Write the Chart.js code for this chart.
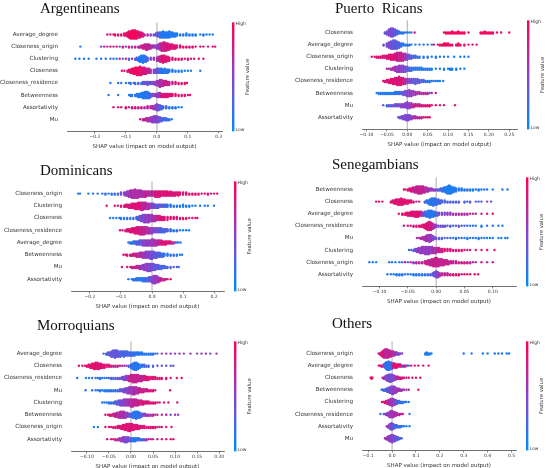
<!DOCTYPE html>
<html>
<head>
<meta charset="utf-8">
<script src="https://cdn.jsdelivr.net/npm/chart.js@4.4.1/dist/chart.umd.min.js"></script>
<style>
  body { margin: 0; background: #fff; width: 549px; height: 468px; overflow: hidden; position: relative; }
  canvas { position: absolute; }
  .ttl { position: absolute; font: 15px/15px "Liberation Serif", serif; color: #111; white-space: pre; }
</style>
</head>
<body>
<script>
// each row: [shap value, feature value 0..1 (low..high), number of dots stacked there]

const argFeatures = ['Average_degree', 'Closeness_origin', 'Clustering', 'Closeness', 'Closeness_residence', 'Betweenness', 'Assortativity', 'Mu'];
const argTicks = [-0.2, -0.1, 0, 0.1, 0.2];
const argRows = [
  [[-0.16,.9,1],[-0.15,.8,1],[-0.14,.9,1],[-0.135,.9,2],[-0.125,.8,2],[-0.115,.9,2],[-0.105,.9,3],[-0.1,.8,3],[-0.095,.9,5],[-0.09,.9,7],[-0.085,1,8],[-0.08,.9,9],[-0.075,.9,9],[-0.07,1,9],[-0.065,.9,8],[-0.06,.8,7],[-0.055,.9,6],[-0.05,.9,5],[-0.045,.8,4],[-0.04,.7,2],[-0.03,.7,2],[-0.02,.5,2],[-0.01,.4,2],[-0.003,.5,3],[0.003,.3,5],[0.01,.2,6],[0.015,.1,6],[0.02,.1,7],[0.025,.2,6],[0.03,.1,6],[0.035,.1,6],[0.04,.1,7],[0.045,.1,5],[0.05,.2,5],[0.055,.1,4],[0.06,.1,4],[0.065,.1,3],[0.075,.1,2],[0.085,.2,2],[0.095,.1,3],[0.105,.1,2],[0.115,.1,2],[0.125,.1,2],[0.14,.1,1],[0.15,.2,2],[0.16,.1,1],[0.17,.1,1],[0.18,.1,1]],
  [[-0.247,.1,1],[-0.18,.5,1],[-0.17,.8,1],[-0.16,.6,1],[-0.15,.9,1],[-0.14,.7,1],[-0.13,.9,1],[-0.12,.4,1],[-0.11,.8,2],[-0.1,.6,1],[-0.09,.9,2],[-0.08,.5,2],[-0.07,.8,2],[-0.06,.6,2],[-0.055,.8,2],[-0.05,.7,3],[-0.045,.8,4],[-0.04,.7,5],[-0.035,.8,6],[-0.03,.7,6],[-0.025,.8,5],[-0.02,.6,4],[-0.015,.7,3],[-0.01,.6,3],[-0.005,.5,3],[0,.5,4],[0.005,.6,5],[0.01,.7,7],[0.015,.8,8],[0.02,.7,9],[0.025,.8,9],[0.03,.8,8],[0.035,.9,7],[0.04,.8,6],[0.045,.9,5],[0.05,.8,5],[0.055,.9,4],[0.06,.9,4],[0.065,.8,3],[0.075,.9,3],[0.085,.9,2],[0.095,.9,2],[0.105,.8,2],[0.115,.9,2],[0.125,.9,1],[0.14,.9,1],[0.15,.9,1],[0.165,.8,1],[0.18,.9,1],[0.188,.9,1]],
  [[-0.263,.1,1],[-0.25,.1,1],[-0.235,.1,1],[-0.22,.1,1],[-0.195,.1,1],[-0.18,.1,1],[-0.165,.2,1],[-0.15,.1,1],[-0.14,.2,1],[-0.13,.1,1],[-0.12,.8,1],[-0.11,.3,1],[-0.1,.8,1],[-0.09,.2,2],[-0.08,.8,1],[-0.07,.2,2],[-0.065,.3,3],[-0.06,.1,4],[-0.055,.2,6],[-0.05,.1,7],[-0.045,.1,8],[-0.04,.2,7],[-0.035,.1,6],[-0.03,.3,4],[-0.02,.5,3],[-0.01,.6,3],[0,.6,4],[0.005,.7,5],[0.01,.8,6],[0.015,.8,7],[0.02,.9,8],[0.025,.8,7],[0.03,.9,6],[0.035,.8,5],[0.04,.9,4],[0.05,.8,3],[0.06,.9,2],[0.07,.8,2],[0.08,.9,2],[0.09,.8,1],[0.1,.9,2],[0.11,.8,1],[0.12,.9,1],[0.135,.9,1],[0.15,.9,1]],
  [[-0.113,.9,1],[-0.105,.9,1],[-0.095,.8,2],[-0.09,.9,3],[-0.085,.9,4],[-0.08,1,5],[-0.075,.9,6],[-0.07,.9,7],[-0.065,1,8],[-0.06,.9,8],[-0.055,.9,9],[-0.05,.8,8],[-0.045,.9,7],[-0.04,.8,7],[-0.035,.9,6],[-0.03,.7,5],[-0.025,.8,5],[-0.02,.6,4],[-0.01,.5,4],[-0.005,.5,4],[0,.4,5],[0.005,.3,5],[0.01,.2,5],[0.015,.1,5],[0.02,.2,4],[0.025,.1,5],[0.03,.1,4],[0.035,.1,4],[0.04,.2,3],[0.05,.1,3],[0.06,.1,2],[0.07,.1,2],[0.08,.1,2],[0.09,.1,1],[0.1,.1,1],[0.11,.1,1],[0.14,.1,1]],
  [[-0.15,.1,1],[-0.125,.1,1],[-0.115,.2,1],[-0.1,.1,1],[-0.09,.3,1],[-0.085,.1,2],[-0.075,.4,1],[-0.07,.2,2],[-0.06,.3,2],[-0.05,.2,2],[-0.045,.3,3],[-0.04,.4,3],[-0.035,.3,3],[-0.03,.4,4],[-0.025,.3,3],[-0.02,.4,3],[-0.015,.5,3],[-0.01,.4,3],[-0.005,.5,4],[0,.6,5],[0.005,.6,6],[0.01,.7,8],[0.015,.6,7],[0.02,.7,6],[0.025,.8,5],[0.03,.7,5],[0.035,.8,4],[0.04,.7,4],[0.05,.8,3],[0.06,.8,3],[0.07,.9,2],[0.08,.8,2],[0.09,.9,2],[0.097,.9,1]],
  [[-0.156,.1,1],[-0.125,.1,1],[-0.09,.1,1],[-0.085,.2,2],[-0.08,.1,2],[-0.07,.1,2],[-0.065,.2,3],[-0.06,.1,4],[-0.055,.1,4],[-0.05,.1,5],[-0.045,.1,6],[-0.04,.2,7],[-0.035,.1,7],[-0.03,.1,7],[-0.025,.2,6],[-0.02,.3,4],[-0.015,.4,3],[-0.01,.5,3],[-0.005,.5,3],[0,.6,4],[0.005,.5,5],[0.01,.7,5],[0.015,.8,4],[0.02,.8,4],[0.025,.9,4],[0.03,.8,4],[0.035,.9,4],[0.04,.9,3],[0.045,.8,3],[0.05,.9,3],[0.06,.9,3],[0.07,.8,2],[0.08,.9,2],[0.09,.9,2],[0.1,.9,1],[0.107,.9,1]],
  [[-0.14,.9,1],[-0.125,.9,1],[-0.115,.8,1],[-0.1,.9,2],[-0.09,.7,1],[-0.08,.9,2],[-0.07,.8,2],[-0.06,.7,2],[-0.05,.8,2],[-0.04,.6,2],[-0.03,.8,3],[-0.02,.6,3],[-0.015,.7,3],[-0.01,.6,4],[-0.005,.5,5],[0,.5,7],[0.005,.4,6],[0.01,.3,5],[0.015,.2,4],[0.02,.3,3],[0.03,.2,3],[0.04,.1,2],[0.05,.2,2],[0.06,.1,2],[0.07,.1,1],[0.08,.1,1]],
  [[-0.054,.8,1],[-0.045,.7,2],[-0.04,.8,2],[-0.035,.7,3],[-0.03,.6,4],[-0.025,.7,4],[-0.02,.5,5],[-0.015,.6,6],[-0.01,.5,7],[-0.005,.5,7],[0,.5,7],[0.005,.4,6],[0.01,.4,5],[0.015,.3,4],[0.02,.2,3],[0.025,.3,3],[0.03,.2,3],[0.035,.1,2],[0.04,.2,2],[0.048,.1,1]]
];

const prFeatures = ['Closeness', 'Average_degree', 'Closeness_origin', 'Clustering', 'Closeness_residence', 'Betweenness', 'Mu', 'Assortativity'];
const prTicks = [-0.1, -0.05, 0, 0.05, 0.1, 0.15, 0.2, 0.25];
const prRows = [
  [[-0.055,.3,2],[-0.05,.5,4],[-0.045,.4,7],[-0.04,.5,9],[-0.035,.4,9],[-0.03,.3,7],[-0.025,.3,5],[-0.02,.2,3],[-0.015,.1,2],[-0.01,.2,2],[-0.005,.1,1],[0,.2,1],[0.005,.1,1],[0.01,.1,1],[0.018,.9,1],[0.09,.9,1],[0.095,.9,2],[0.1,1,2],[0.105,.9,2],[0.11,.9,3],[0.115,1,2],[0.12,.9,2],[0.125,.9,3],[0.13,.9,2],[0.135,1,2],[0.14,.9,2],[0.15,.9,1],[0.18,.9,2],[0.185,1,2],[0.19,.9,3],[0.195,.9,2],[0.2,1,2],[0.205,.9,2],[0.21,.9,2],[0.22,.9,1],[0.23,.9,1],[0.25,.9,1]],
  [[-0.058,.4,2],[-0.05,.4,4],[-0.045,.5,6],[-0.04,.4,8],[-0.035,.3,9],[-0.03,.4,9],[-0.025,.3,8],[-0.02,.3,6],[-0.015,.2,4],[-0.01,.1,3],[-0.005,.2,2],[0,.1,2],[0.005,.1,2],[0.01,.1,1],[0.02,.1,1],[0.03,.1,1],[0.04,.2,1],[0.05,.1,1],[0.06,.1,1],[0.065,.9,1],[0.075,.9,1],[0.08,.9,2],[0.085,.9,2],[0.09,1,3],[0.095,.9,3],[0.1,.9,3],[0.105,1,2],[0.11,.9,2],[0.12,.9,2],[0.125,.9,3],[0.13,.9,2],[0.14,.9,2],[0.15,.9,1],[0.16,.9,1],[0.17,.9,1]],
  [[-0.087,.9,1],[-0.08,.9,1],[-0.075,.8,2],[-0.07,.9,2],[-0.065,.8,2],[-0.06,.9,3],[-0.055,.8,3],[-0.05,.9,4],[-0.045,.8,5],[-0.04,.9,6],[-0.035,.8,6],[-0.03,.9,7],[-0.025,.8,9],[-0.02,.7,9],[-0.015,.8,9],[-0.01,.7,8],[-0.005,.6,7],[0,.5,6],[0.005,.4,5],[0.01,.3,4],[0.015,.2,3],[0.02,.3,3],[0.025,.2,2],[0.03,.1,2],[0.04,.2,2],[0.05,.1,2],[0.06,.1,1],[0.07,.1,2],[0.08,.2,1],[0.09,.1,1],[0.1,.1,1],[0.115,.1,1],[0.13,.1,1],[0.14,.1,1],[0.15,.1,1]],
  [[-0.05,.6,1],[-0.045,.7,1],[-0.04,.6,2],[-0.035,.7,3],[-0.03,.6,5],[-0.025,.5,6],[-0.02,.6,7],[-0.015,.5,7],[-0.01,.5,7],[-0.005,.4,6],[0,.4,5],[0.005,.3,4],[0.01,.2,4],[0.015,.2,3],[0.02,.1,3],[0.025,.2,3],[0.03,.1,3],[0.035,.1,3],[0.04,.1,2],[0.045,.2,2],[0.05,.1,2],[0.055,.1,2],[0.06,.1,2],[0.07,.1,1],[0.08,.1,1],[0.09,.1,2],[0.1,.1,1],[0.105,.1,2],[0.11,.1,2],[0.12,.1,2],[0.13,.1,1],[0.14,.1,1]],
  [[-0.059,.9,1],[-0.055,.8,2],[-0.05,.9,3],[-0.045,.8,4],[-0.04,.9,5],[-0.035,.9,6],[-0.03,.8,7],[-0.025,.9,8],[-0.02,.8,9],[-0.015,.9,8],[-0.01,.8,7],[-0.005,.7,6],[0,.6,5],[0.005,.5,5],[0.01,.4,5],[0.015,.4,5],[0.02,.3,6],[0.025,.4,5],[0.03,.3,4],[0.035,.2,3],[0.04,.3,3],[0.045,.2,2],[0.05,.2,2],[0.055,.1,2],[0.06,.2,1],[0.065,.1,1],[0.07,.1,1],[0.075,.1,1],[0.08,.1,1],[0.088,.1,1]],
  [[-0.075,.1,1],[-0.07,.1,2],[-0.065,.1,2],[-0.06,.2,2],[-0.055,.1,2],[-0.05,.1,2],[-0.045,.2,2],[-0.04,.1,2],[-0.035,.1,2],[-0.03,.2,3],[-0.025,.1,3],[-0.02,.2,3],[-0.015,.3,3],[-0.01,.3,4],[-0.005,.4,5],[0,.5,6],[0.005,.5,7],[0.01,.6,6],[0.015,.5,5],[0.02,.6,4],[0.025,.7,3],[0.03,.6,3],[0.035,.7,2],[0.04,.8,2],[0.045,.6,2],[0.05,.8,2],[0.055,.3,1],[0.06,.7,1],[0.07,.8,1]],
  [[-0.059,.3,1],[-0.05,.2,2],[-0.045,.4,2],[-0.04,.3,2],[-0.035,.4,2],[-0.03,.3,3],[-0.025,.5,3],[-0.02,.4,3],[-0.015,.5,4],[-0.01,.5,4],[-0.005,.5,5],[0,.5,7],[0.005,.5,6],[0.01,.6,5],[0.015,.7,4],[0.02,.8,3],[0.025,.7,3],[0.03,.8,3],[0.035,.9,2],[0.04,.8,2],[0.045,.9,2],[0.05,.8,2],[0.055,.9,2],[0.06,.9,1],[0.07,.9,1],[0.08,.8,1],[0.09,.9,1],[0.117,.9,1]],
  [[-0.022,.3,1],[-0.018,.4,2],[-0.014,.4,3],[-0.01,.5,4],[-0.006,.4,5],[-0.002,.5,6],[0.002,.5,6],[0.006,.4,5],[0.01,.5,4],[0.015,.6,3],[0.02,.7,3],[0.025,.6,2],[0.03,.8,2],[0.035,.7,2],[0.04,.9,1],[0.045,.8,1],[0.05,.9,1],[0.055,.9,1]]
];

const domFeatures = ['Closeness_origin', 'Clustering', 'Closeness', 'Closeness_residence', 'Average_degree', 'Betweenness', 'Mu', 'Assortativity'];
const domTicks = [-0.2, -0.1, 0, 0.1, 0.2];
const domRows = [
  [[-0.238,.1,1],[-0.232,.1,1],[-0.205,.1,1],[-0.19,.1,1],[-0.175,.1,1],[-0.16,.2,1],[-0.15,.1,2],[-0.14,.2,1],[-0.13,.1,2],[-0.12,.3,2],[-0.11,.2,2],[-0.1,.4,3],[-0.09,.5,3],[-0.085,.6,4],[-0.08,.5,5],[-0.075,.6,6],[-0.07,.6,7],[-0.065,.7,8],[-0.06,.6,8],[-0.055,.7,9],[-0.05,.6,8],[-0.045,.7,8],[-0.04,.6,7],[-0.035,.7,7],[-0.03,.6,6],[-0.025,.7,6],[-0.02,.8,6],[-0.015,.7,5],[-0.01,.6,5],[-0.005,.7,5],[0,.8,5],[0.005,.7,5],[0.01,.8,6],[0.015,.8,6],[0.02,.9,6],[0.025,.8,6],[0.03,.9,5],[0.035,.8,5],[0.04,.9,5],[0.045,.8,5],[0.05,.9,5],[0.055,.8,4],[0.06,.9,5],[0.065,.8,4],[0.07,.9,4],[0.075,.8,4],[0.08,.9,3],[0.085,.8,4],[0.09,.9,3],[0.1,.8,3],[0.11,.9,3],[0.12,.8,2],[0.13,.9,2],[0.14,.9,2],[0.15,.8,2],[0.16,.9,1],[0.17,.9,1],[0.18,.9,2],[0.19,.8,1],[0.2,.9,1],[0.21,.9,1]],
  [[-0.146,.9,1],[-0.12,.9,1],[-0.11,.8,1],[-0.1,.9,2],[-0.09,.8,2],[-0.085,.9,3],[-0.08,.9,3],[-0.075,.8,4],[-0.07,.9,4],[-0.065,.8,5],[-0.06,.9,5],[-0.055,.8,6],[-0.05,.9,6],[-0.045,.8,7],[-0.04,.9,7],[-0.035,.8,8],[-0.03,.7,8],[-0.025,.8,7],[-0.02,.7,7],[-0.015,.6,6],[-0.01,.7,6],[-0.005,.5,5],[0,.5,5],[0.005,.4,5],[0.01,.5,4],[0.015,.3,4],[0.02,.4,4],[0.025,.3,3],[0.03,.4,3],[0.035,.3,3],[0.04,.2,3],[0.045,.3,3],[0.05,.2,3],[0.06,.1,3],[0.07,.2,2],[0.08,.1,2],[0.09,.1,2],[0.1,.1,3],[0.11,.1,2],[0.12,.1,2],[0.13,.1,1],[0.14,.1,1],[0.155,.1,1],[0.17,.1,1],[0.18,.1,1],[0.2,.1,1]],
  [[-0.135,.1,1],[-0.125,.1,1],[-0.115,.1,1],[-0.105,.2,1],[-0.1,.1,2],[-0.09,.1,2],[-0.08,.2,2],[-0.07,.1,2],[-0.06,.3,2],[-0.05,.2,3],[-0.045,.4,4],[-0.04,.3,5],[-0.035,.5,6],[-0.03,.4,7],[-0.025,.5,8],[-0.02,.6,8],[-0.015,.5,8],[-0.01,.6,8],[-0.005,.5,7],[0,.6,7],[0.005,.7,6],[0.01,.6,6],[0.015,.8,5],[0.02,.7,5],[0.025,.8,5],[0.03,.9,4],[0.035,.8,4],[0.04,.9,4],[0.05,.8,4],[0.06,.9,3],[0.07,.9,3],[0.08,.8,3],[0.09,.9,2],[0.1,.9,2],[0.11,.9,2],[0.12,.8,1],[0.13,.9,1],[0.14,.9,1],[0.146,.9,1]],
  [[-0.103,.9,1],[-0.095,.8,1],[-0.085,.9,2],[-0.08,.8,3],[-0.075,.9,3],[-0.07,.8,4],[-0.065,.9,5],[-0.06,.8,5],[-0.055,.9,6],[-0.05,.8,7],[-0.045,.9,7],[-0.04,.8,8],[-0.035,.7,8],[-0.03,.8,8],[-0.025,.7,8],[-0.02,.8,7],[-0.015,.6,7],[-0.01,.7,6],[-0.005,.6,6],[0,.5,6],[0.005,.5,5],[0.01,.4,5],[0.015,.5,5],[0.02,.3,5],[0.025,.4,5],[0.03,.3,5],[0.035,.2,4],[0.04,.3,4],[0.045,.2,3],[0.05,.3,3],[0.06,.2,3],[0.07,.1,2],[0.08,.2,2],[0.09,.1,1],[0.1,.1,1],[0.11,.1,1],[0.119,.1,1]],
  [[-0.076,.2,1],[-0.07,.1,2],[-0.065,.2,2],[-0.06,.1,3],[-0.055,.2,3],[-0.05,.3,4],[-0.045,.2,4],[-0.04,.4,5],[-0.035,.3,5],[-0.03,.5,6],[-0.025,.4,6],[-0.02,.5,6],[-0.015,.6,6],[-0.01,.5,6],[-0.005,.6,6],[0,.5,7],[0.005,.6,7],[0.01,.7,6],[0.015,.6,6],[0.02,.8,5],[0.025,.7,5],[0.03,.8,5],[0.035,.9,4],[0.04,.8,4],[0.045,.9,4],[0.05,.8,3],[0.055,.9,3],[0.06,.8,3],[0.065,.9,2],[0.07,.3,2],[0.075,.8,1],[0.08,.2,1],[0.085,.1,1],[0.092,.2,1]],
  [[-0.092,.9,1],[-0.085,.8,1],[-0.08,.9,2],[-0.07,.8,2],[-0.065,.9,2],[-0.06,.8,3],[-0.055,.7,3],[-0.05,.8,4],[-0.045,.7,4],[-0.04,.6,5],[-0.035,.7,5],[-0.03,.6,6],[-0.025,.5,6],[-0.02,.6,7],[-0.015,.5,7],[-0.01,.5,7],[-0.005,.4,8],[0,.5,8],[0.005,.4,7],[0.01,.3,6],[0.015,.4,6],[0.02,.3,5],[0.025,.2,5],[0.03,.3,4],[0.035,.2,4],[0.04,.1,3],[0.05,.2,3],[0.06,.1,2],[0.07,.2,2],[0.08,.1,2],[0.09,.1,1],[0.097,.1,1]],
  [[-0.097,.9,1],[-0.08,.8,1],[-0.07,.9,1],[-0.065,.8,2],[-0.06,.7,2],[-0.055,.8,2],[-0.05,.7,3],[-0.045,.6,3],[-0.04,.7,4],[-0.035,.6,4],[-0.03,.5,5],[-0.025,.6,6],[-0.02,.5,7],[-0.015,.5,8],[-0.01,.4,8],[-0.005,.5,8],[0,.5,7],[0.005,.4,7],[0.01,.3,6],[0.015,.4,5],[0.02,.3,5],[0.025,.2,4],[0.03,.3,4],[0.035,.2,3],[0.04,.3,3],[0.045,.2,2],[0.05,.3,2],[0.06,.2,2],[0.07,.4,1],[0.08,.2,1],[0.086,.3,1]],
  [[-0.076,.1,1],[-0.065,.2,1],[-0.06,.1,2],[-0.055,.2,2],[-0.05,.1,3],[-0.045,.2,3],[-0.04,.1,3],[-0.035,.2,3],[-0.03,.1,4],[-0.025,.2,4],[-0.02,.3,4],[-0.015,.2,4],[-0.01,.3,5],[-0.005,.4,5],[0,.5,6],[0.005,.5,8],[0.01,.6,8],[0.015,.5,7],[0.02,.6,6],[0.025,.7,4],[0.03,.8,3],[0.035,.7,2],[0.04,.8,2],[0.045,.9,1],[0.05,.8,1],[0.06,.9,1]]
];

const senFeatures = ['Betweenness', 'Closeness', 'Average_degree', 'Closeness_residence', 'Mu', 'Clustering', 'Closeness_origin', 'Assortativity'];
const senTicks = [-0.1, -0.05, 0, 0.05, 0.1];
const senRows = [
  [[-0.057,.9,1],[-0.054,.8,1],[-0.05,.9,2],[-0.047,.8,3],[-0.044,.9,4],[-0.041,.8,5],[-0.038,.7,6],[-0.035,.8,7],[-0.032,.7,8],[-0.029,.8,8],[-0.026,.7,8],[-0.023,.8,7],[-0.02,.7,6],[-0.017,.6,5],[-0.014,.7,4],[-0.011,.6,3],[-0.008,.5,3],[-0.005,.6,2],[-0.002,.5,2],[0.002,.4,2],[0.005,.3,2],[0.008,.3,3],[0.011,.2,4],[0.014,.1,5],[0.017,.1,6],[0.02,.1,8],[0.023,.1,9],[0.026,.1,8],[0.029,.1,6],[0.032,.1,5],[0.035,.2,4],[0.04,.1,3],[0.045,.1,3],[0.05,.1,2],[0.055,.2,2],[0.06,.1,2],[0.065,.1,2],[0.07,.1,1],[0.075,.1,2],[0.08,.1,1],[0.085,.1,1],[0.09,.1,1],[0.1,.1,1],[0.117,.1,1],[0.126,.1,1]],
  [[-0.106,.9,1],[-0.101,.9,1],[-0.095,.9,1],[-0.08,.9,2],[-0.077,.8,3],[-0.074,.9,4],[-0.071,.9,5],[-0.068,.8,6],[-0.065,.9,6],[-0.062,.9,7],[-0.059,.8,6],[-0.056,.9,5],[-0.053,.9,4],[-0.05,.8,4],[-0.047,.9,3],[-0.044,.9,3],[-0.04,.8,2],[-0.035,.7,1],[-0.03,.8,1],[-0.02,.3,2],[-0.017,.2,3],[-0.014,.1,4],[-0.011,.2,6],[-0.008,.1,7],[-0.005,.2,8],[-0.002,.1,7],[0.001,.2,6],[0.004,.3,5],[0.007,.2,4],[0.01,.3,3],[0.015,.2,3],[0.02,.4,2],[0.025,.3,2],[0.03,.2,2],[0.035,.4,2],[0.04,.3,2],[0.05,.2,2],[0.055,.4,1],[0.06,.3,2],[0.07,.2,1],[0.075,.4,1],[0.08,.3,1],[0.09,.5,1],[0.097,.4,1]],
  [[-0.066,.9,1],[-0.06,.9,2],[-0.056,.8,2],[-0.053,.9,3],[-0.05,.9,4],[-0.047,.8,4],[-0.044,.9,5],[-0.041,.9,5],[-0.038,.8,6],[-0.035,.9,6],[-0.032,.8,6],[-0.029,.9,5],[-0.026,.7,5],[-0.023,.5,4],[-0.02,.3,5],[-0.017,.2,6],[-0.014,.1,7],[-0.011,.1,8],[-0.008,.2,7],[-0.005,.1,6],[-0.002,.2,5],[0.002,.3,4],[0.005,.4,3],[0.01,.5,3],[0.015,.4,3],[0.02,.6,3],[0.025,.5,3],[0.03,.6,2],[0.035,.7,2],[0.04,.6,2],[0.045,.7,2],[0.05,.6,2],[0.055,.7,2],[0.06,.8,1],[0.065,.6,1],[0.07,.8,1],[0.08,.7,1],[0.09,.8,1],[0.1,.9,1]],
  [[-0.057,.9,1],[-0.05,.8,1],[-0.045,.9,1],[-0.04,.8,2],[-0.035,.9,2],[-0.03,.8,2],[-0.027,.9,2],[-0.024,.8,3],[-0.021,.9,4],[-0.018,.8,6],[-0.015,.9,8],[-0.012,.8,9],[-0.009,.8,8],[-0.006,.7,6],[-0.003,.6,4],[0,.5,3],[0.004,.4,2],[0.008,.5,2],[0.012,.4,2],[0.016,.3,2],[0.02,.4,1],[0.025,.3,2],[0.03,.2,1],[0.035,.3,1],[0.04,.4,2],[0.045,.2,1],[0.05,.3,1],[0.055,.2,1],[0.06,.1,1],[0.065,.2,1],[0.07,.1,1],[0.08,.1,2],[0.09,.2,1],[0.1,.1,1],[0.11,.1,1],[0.117,.1,1]],
  [[-0.034,.6,1],[-0.03,.7,1],[-0.027,.6,2],[-0.024,.7,3],[-0.021,.6,4],[-0.018,.7,6],[-0.015,.6,7],[-0.012,.5,8],[-0.009,.6,7],[-0.006,.5,5],[-0.003,.4,3],[0,.4,2],[0.005,.3,2],[0.01,.3,2],[0.015,.2,1],[0.02,.3,1],[0.025,.2,1],[0.03,.1,1],[0.035,.2,2],[0.04,.1,1],[0.045,.2,1],[0.05,.1,1],[0.055,.1,2],[0.06,.2,1],[0.065,.1,1],[0.07,.1,1],[0.075,.1,2],[0.08,.1,1],[0.085,.1,1],[0.09,.1,1],[0.095,.1,1],[0.1,.1,1],[0.11,.1,1],[0.115,.1,1],[0.122,.1,1],[0.126,.1,1]],
  [[-0.048,.2,1],[-0.044,.3,1],[-0.04,.2,2],[-0.037,.4,3],[-0.034,.5,4],[-0.031,.6,5],[-0.028,.5,6],[-0.025,.6,7],[-0.022,.5,7],[-0.019,.6,8],[-0.016,.5,8],[-0.013,.6,8],[-0.01,.5,7],[-0.007,.6,7],[-0.004,.7,6],[-0.001,.6,6],[0.002,.7,5],[0.005,.8,5],[0.008,.7,4],[0.011,.8,4],[0.015,.9,3],[0.02,.8,3],[0.025,.9,3],[0.03,.8,2],[0.035,.9,2],[0.04,.8,2],[0.045,.9,2],[0.05,.8,1],[0.055,.9,1],[0.06,.8,1],[0.07,.9,1],[0.08,.8,1],[0.09,.9,1],[0.103,.9,1]],
  [[-0.118,.1,1],[-0.112,.1,1],[-0.106,.1,1],[-0.083,.1,1],[-0.078,.2,1],[-0.072,.1,1],[-0.065,.1,1],[-0.06,.2,1],[-0.055,.8,1],[-0.05,.3,1],[-0.045,.8,1],[-0.04,.5,2],[-0.035,.8,2],[-0.03,.6,2],[-0.025,.8,2],[-0.02,.7,3],[-0.017,.8,4],[-0.014,.7,5],[-0.011,.8,6],[-0.008,.7,7],[-0.005,.8,8],[-0.002,.7,9],[0.001,.8,9],[0.004,.7,8],[0.007,.8,7],[0.01,.7,7],[0.013,.8,6],[0.016,.7,5],[0.019,.8,5],[0.022,.7,4],[0.026,.8,3],[0.03,.7,3],[0.035,.8,3],[0.04,.7,2],[0.045,.8,2],[0.05,.7,2],[0.055,.8,2],[0.06,.6,2],[0.065,.8,1],[0.07,.7,1],[0.08,.8,1],[0.09,.7,1],[0.1,.8,1]],
  [[-0.086,.1,1],[-0.08,.2,1],[-0.075,.1,1],[-0.07,.1,2],[-0.065,.1,2],[-0.06,.2,2],[-0.055,.1,1],[-0.05,.2,1],[-0.045,.1,1],[-0.04,.1,2],[-0.035,.2,2],[-0.03,.1,2],[-0.025,.2,2],[-0.02,.1,2],[-0.015,.2,2],[-0.01,.3,2],[-0.006,.3,3],[-0.003,.4,5],[0,.5,7],[0.003,.5,6],[0.006,.6,4],[0.01,.7,3],[0.015,.8,3],[0.02,.7,3],[0.025,.8,2],[0.03,.9,2],[0.035,.8,2],[0.04,.9,2],[0.045,.8,1],[0.05,.9,1],[0.055,.8,1],[0.06,.9,1],[0.068,.9,1],[0.074,.9,1]]
];

const morFeatures = ['Average_degree', 'Closeness', 'Closeness_residence', 'Mu', 'Clustering', 'Betweenness', 'Closeness_origin', 'Assortativity'];
const morTicks = [-0.1, -0.05, 0, 0.05, 0.1, 0.15, 0.2];
const morRows = [
  [[-0.062,.3,1],[-0.056,.2,2],[-0.052,.4,3],[-0.048,.3,4],[-0.044,.4,6],[-0.04,.3,7],[-0.036,.4,8],[-0.032,.3,7],[-0.028,.4,6],[-0.024,.3,6],[-0.02,.2,5],[-0.016,.3,6],[-0.012,.2,5],[-0.008,.3,5],[-0.004,.2,4],[0,.3,4],[0.004,.2,4],[0.008,.1,4],[0.012,.2,3],[0.016,.1,3],[0.02,.2,3],[0.025,.1,3],[0.03,.2,2],[0.035,.1,2],[0.04,.2,2],[0.045,.1,2],[0.05,.2,2],[0.055,.1,1],[0.06,.3,1],[0.07,.6,1],[0.08,.5,1],[0.09,.6,1],[0.1,.5,1],[0.11,.6,1],[0.12,.5,1],[0.135,.6,1],[0.15,.5,1],[0.16,.6,1],[0.17,.6,1],[0.18,.5,1],[0.194,.6,1]],
  [[-0.118,.9,1],[-0.11,.9,1],[-0.104,.8,1],[-0.1,.9,2],[-0.096,.9,3],[-0.092,.8,4],[-0.088,.9,5],[-0.084,.9,6],[-0.08,.9,7],[-0.076,.8,7],[-0.072,.9,6],[-0.068,.9,5],[-0.064,.8,4],[-0.06,.9,4],[-0.055,.8,3],[-0.05,.9,3],[-0.045,.8,2],[-0.04,.7,2],[-0.035,.8,2],[-0.03,.7,2],[-0.025,.8,1],[-0.02,.6,1],[-0.015,.7,1],[-0.01,.5,1],[-0.005,.3,2],[0,.2,4],[0.004,.1,6],[0.008,.2,8],[0.012,.1,8],[0.016,.2,6],[0.02,.1,4],[0.025,.2,3],[0.03,.3,3],[0.035,.2,2],[0.04,.3,2],[0.05,.2,2],[0.06,.4,1],[0.07,.3,1],[0.08,.4,1],[0.09,.3,1],[0.096,.4,1]],
  [[-0.122,.1,1],[-0.102,.1,1],[-0.095,.1,1],[-0.088,.2,1],[-0.08,.1,1],[-0.075,.2,1],[-0.07,.1,2],[-0.065,.2,1],[-0.06,.1,1],[-0.055,.3,1],[-0.05,.2,1],[-0.045,.3,2],[-0.04,.2,2],[-0.035,.3,2],[-0.03,.4,2],[-0.025,.3,2],[-0.02,.5,3],[-0.016,.4,4],[-0.012,.5,5],[-0.008,.6,5],[-0.004,.7,6],[0,.8,7],[0.004,.7,8],[0.008,.8,8],[0.012,.7,8],[0.016,.8,7],[0.02,.7,6],[0.024,.8,6],[0.028,.7,5],[0.032,.8,5],[0.036,.9,4],[0.04,.8,4],[0.045,.9,3],[0.05,.8,3],[0.055,.9,3],[0.06,.8,2],[0.065,.9,2],[0.07,.8,2],[0.08,.9,2],[0.09,.8,1],[0.104,.9,1],[0.115,.9,1]],
  [[-0.103,.1,1],[-0.088,.1,1],[-0.08,.2,1],[-0.075,.1,1],[-0.07,.1,2],[-0.065,.2,1],[-0.06,.1,2],[-0.055,.2,2],[-0.05,.1,2],[-0.045,.2,2],[-0.04,.1,2],[-0.035,.3,2],[-0.03,.2,2],[-0.025,.3,3],[-0.02,.4,3],[-0.016,.5,4],[-0.012,.4,5],[-0.008,.5,6],[-0.004,.6,7],[0,.5,7],[0.004,.6,8],[0.008,.7,8],[0.012,.6,7],[0.016,.7,6],[0.02,.8,5],[0.024,.7,4],[0.028,.8,4],[0.032,.7,3],[0.036,.8,3],[0.04,.9,2],[0.045,.8,2],[0.05,.9,2],[0.055,.8,1],[0.089,.8,1]],
  [[-0.065,.2,1],[-0.06,.1,1],[-0.055,.2,1],[-0.05,.1,2],[-0.045,.2,2],[-0.04,.3,2],[-0.036,.2,3],[-0.032,.4,4],[-0.028,.3,5],[-0.024,.5,6],[-0.02,.4,6],[-0.016,.6,7],[-0.012,.5,7],[-0.008,.6,7],[-0.004,.7,7],[0,.6,8],[0.004,.7,8],[0.008,.8,7],[0.012,.7,7],[0.016,.8,6],[0.02,.7,5],[0.024,.8,5],[0.028,.9,4],[0.032,.8,3],[0.036,.9,3],[0.04,.8,3],[0.045,.9,2],[0.05,.8,2],[0.055,.9,2],[0.06,.8,1],[0.065,.9,1],[0.075,.8,1],[0.085,.9,1],[0.105,.8,1]],
  [[-0.058,.9,1],[-0.052,.8,1],[-0.048,.9,2],[-0.044,.8,2],[-0.04,.7,3],[-0.036,.8,4],[-0.032,.7,5],[-0.028,.6,6],[-0.024,.7,7],[-0.02,.6,7],[-0.016,.7,7],[-0.012,.6,6],[-0.008,.5,5],[-0.004,.4,4],[0,.3,4],[0.004,.2,6],[0.008,.1,7],[0.012,.2,8],[0.016,.1,7],[0.02,.2,6],[0.024,.3,4],[0.028,.4,3],[0.032,.5,3],[0.036,.6,2],[0.04,.7,2],[0.045,.5,2],[0.05,.8,2],[0.055,.6,1],[0.06,.8,1],[0.07,.7,1],[0.08,.9,1],[0.09,.3,1],[0.1,.6,1],[0.107,.5,1]],
  [[-0.084,.1,1],[-0.075,.1,1],[-0.058,.9,1],[-0.05,.8,1],[-0.045,.9,1],[-0.04,.8,2],[-0.035,.9,2],[-0.03,.8,3],[-0.026,.9,3],[-0.022,.8,4],[-0.018,.9,5],[-0.014,.8,6],[-0.01,.9,7],[-0.006,.8,8],[-0.002,.9,8],[0.002,.8,7],[0.006,.9,6],[0.01,.8,5],[0.014,.9,5],[0.018,.8,4],[0.022,.9,3],[0.026,.8,3],[0.03,.9,3],[0.035,.8,2],[0.04,.9,2],[0.045,.8,2],[0.05,.9,2],[0.055,.8,2],[0.06,.9,1],[0.065,.8,1],[0.07,.9,1],[0.08,.8,1],[0.092,.9,1]],
  [[-0.054,.9,1],[-0.045,.8,1],[-0.04,.9,1],[-0.035,.8,2],[-0.03,.7,2],[-0.026,.6,3],[-0.022,.5,4],[-0.018,.6,5],[-0.014,.5,6],[-0.01,.4,6],[-0.006,.5,5],[-0.002,.3,4],[0.002,.2,4],[0.006,.1,4],[0.01,.2,4],[0.014,.1,3],[0.018,.2,3],[0.022,.3,2],[0.026,.2,2],[0.03,.4,2],[0.035,.6,2],[0.04,.7,1],[0.045,.8,1],[0.05,.7,1],[0.06,.8,1],[0.07,.9,1],[0.08,.8,1],[0.09,.9,1],[0.096,.9,1]]
];

const othFeatures = ['Closeness_origin', 'Average_degree', 'Closeness', 'Betweenness', 'Clustering', 'Closeness_residence', 'Assortativity', 'Mu'];
const othTicks = [-0.1, 0, 0.1, 0.2, 0.3, 0.4, 0.5];
const othRows = [
  [[-0.056,.8,1],[-0.05,.9,2],[-0.045,.8,4],[-0.04,.9,6],[-0.035,.8,8],[-0.03,.7,9],[-0.025,.8,9],[-0.02,.7,9],[-0.015,.8,8],[-0.01,.7,7],[-0.005,.8,6],[0,.7,5],[0.005,.6,5],[0.01,.7,4],[0.015,.6,3],[0.02,.5,3],[0.025,.6,2],[0.03,.4,2],[0.035,.5,1],[0.042,.4,1],[0.139,.1,2],[0.145,.1,3],[0.15,.1,2],[0.157,.1,2],[0.165,.1,1],[0.3,.1,1],[0.333,.1,1],[0.38,.1,1],[0.4,.1,1],[0.43,.1,1],[0.445,.1,1],[0.46,.1,1],[0.48,.1,1],[0.49,.1,1]],
  [[-0.056,.9,1],[-0.05,.8,1],[-0.045,.9,2],[-0.04,.7,2],[-0.035,.5,3],[-0.03,.3,5],[-0.025,.2,7],[-0.02,.1,8],[-0.015,.2,9],[-0.01,.1,8],[-0.005,.2,7],[0,.5,6],[0.005,.8,5],[0.01,.9,5],[0.015,.8,4],[0.02,.9,4],[0.025,.8,3],[0.03,.9,3],[0.035,.8,3],[0.04,.9,2],[0.045,.3,2],[0.05,.8,2],[0.055,.9,2],[0.06,.2,1],[0.065,.8,1],[0.07,.1,1],[0.08,.9,1],[0.095,.9,1],[0.11,.9,1],[0.13,.9,1],[0.153,.9,1]],
  [[-0.09,.9,1],[-0.086,.9,2],[-0.082,.9,1],[-0.04,.8,1],[-0.035,.6,2],[-0.03,.5,3],[-0.025,.4,5],[-0.02,.5,6],[-0.015,.4,7],[-0.01,.5,8],[-0.005,.4,8],[0,.5,7],[0.005,.4,6],[0.01,.5,5],[0.015,.6,4],[0.02,.7,3],[0.025,.8,3],[0.03,.7,2],[0.035,.8,2],[0.04,.9,2],[0.045,.8,1],[0.05,.9,1],[0.06,.8,1],[0.07,.9,1],[0.085,.8,1],[0.1,.9,1],[0.118,.9,1]],
  [[-0.044,.1,1],[-0.04,.2,1],[-0.035,.1,2],[-0.03,.2,2],[-0.025,.3,3],[-0.02,.4,4],[-0.015,.3,5],[-0.01,.4,6],[-0.005,.5,7],[0,.4,8],[0.005,.5,8],[0.01,.6,7],[0.015,.5,6],[0.02,.6,4],[0.025,.7,3],[0.03,.6,3],[0.035,.7,2],[0.04,.6,2],[0.045,.5,1],[0.05,.7,1],[0.06,.6,1],[0.07,.7,1],[0.11,.9,1]],
  [[-0.042,.9,1],[-0.035,.8,1],[-0.03,.9,2],[-0.025,.8,3],[-0.02,.7,4],[-0.015,.6,5],[-0.01,.7,6],[-0.005,.6,7],[0,.5,8],[0.005,.6,7],[0.01,.5,6],[0.015,.4,5],[0.02,.3,4],[0.025,.4,3],[0.03,.2,3],[0.035,.3,2],[0.04,.2,2],[0.045,.1,2],[0.05,.2,1],[0.055,.1,1],[0.06,.1,1],[0.07,.1,1]],
  [[-0.049,.15,1],[-0.035,.3,1],[-0.03,.5,1],[-0.025,.6,2],[-0.02,.5,3],[-0.015,.6,4],[-0.01,.5,6],[-0.005,.6,7],[0,.5,7],[0.005,.6,6],[0.01,.7,5],[0.015,.6,4],[0.02,.7,3],[0.025,.6,2],[0.03,.7,2],[0.035,.8,1],[0.04,.6,1],[0.045,.8,1],[0.073,.2,1]],
  [[-0.022,.6,1],[-0.018,.5,2],[-0.014,.6,3],[-0.01,.5,5],[-0.006,.4,6],[-0.002,.5,7],[0.002,.4,6],[0.006,.3,5],[0.01,.4,4],[0.015,.2,3],[0.02,.3,3],[0.025,.2,2],[0.03,.1,2],[0.035,.2,2],[0.04,.1,1],[0.045,.2,1],[0.05,.1,1],[0.06,.1,1],[0.073,.1,1]],
  [[-0.03,.7,1],[-0.025,.6,2],[-0.02,.5,3],[-0.015,.6,5],[-0.01,.5,6],[-0.005,.6,7],[0,.5,8],[0.005,.4,7],[0.01,.5,6],[0.015,.4,5],[0.02,.3,4],[0.025,.4,3],[0.03,.3,2],[0.035,.2,1],[0.04,.3,1]]
];

// y-axis label width, top pad, colorbar room, x-axis height
const YW = 72, PT = 6, RW = 36, XH = 18;
const STEP = 0.085;

function shapColor(f) {
  const lo = [0, 139, 251], mid = [138, 66, 204], hi = [255, 0, 82];
  const a = f < 0.5 ? lo : mid, b = f < 0.5 ? mid : hi;
  const t = f < 0.5 ? f * 2 : (f - 0.5) * 2;
  return 'rgb(' + a.map((v, i) => Math.round(v + (b[i] - v) * t)).join(',') + ')';
}

// stack the dots of each group alternately above / below the row line
function swarm(rows) {
  const pts = [], cols = [];
  rows.forEach((row, r) => {
    row.forEach(([x, f, n]) => {
      for (let k = 0; k < n; k++) {
        const off = Math.ceil(k / 2) * (k % 2 ? 1 : -1) * STEP;
        pts.push({ x, y: r + off });
        cols.push(shapColor(f));
      }
    });
  });
  return { pts, cols };
}

const zeroLine = {
  id: 'zeroLine',
  beforeDatasetsDraw(chart) {
    const { ctx, chartArea: a, scales } = chart;
    const x = scales.x.getPixelForValue(0);
    ctx.save();
    ctx.strokeStyle = '#999';
    ctx.lineWidth = 0.8;
    ctx.beginPath();
    ctx.moveTo(x, a.top);
    ctx.lineTo(x, a.bottom);
    ctx.stroke();
    ctx.restore();
  }
};

const colorBar = {
  id: 'colorBar',
  afterDraw(chart) {
    const { ctx, chartArea: a } = chart;
    const x = a.right + 10;
    const g = ctx.createLinearGradient(0, a.bottom, 0, a.top);
    [0, 0.25, 0.5, 0.75, 1].forEach(s => g.addColorStop(s, shapColor(s)));
    ctx.save();
    ctx.fillStyle = g;
    ctx.fillRect(x, a.top, 2.4, a.bottom - a.top);
    ctx.fillStyle = '#333';
    ctx.font = '4.5px "DejaVu Sans"';
    ctx.textBaseline = 'top';
    ctx.fillText('High', x + 3.5, a.top - 1);
    ctx.textBaseline = 'bottom';
    ctx.fillText('Low', x + 3.5, a.bottom + 1);
    ctx.translate(x + 16, (a.top + a.bottom) / 2);
    ctx.rotate(-Math.PI / 2);
    ctx.textAlign = 'center';
    ctx.textBaseline = 'middle';
    ctx.font = '5.3px "DejaVu Sans"';
    ctx.fillText('Feature value', 0, 0);
    ctx.restore();
  }
};

function panel(p) {
  const [L, R, T, B] = p.box;
  let w = R - L + YW + RW, h = B - T + PT + XH;
  const c = document.createElement('canvas');
  c.width = w; c.height = h;
  c.style.width = w + 'px';
  c.style.height = h + 'px';
  document.body.appendChild(c);

  const t = document.createElement('div');
  t.className = 'ttl';
  t.textContent = p.title;
  t.style.left = p.titlePos[0] + 'px';
  t.style.top = p.titlePos[1] + 'px';
  document.body.appendChild(t);

  const { pts, cols } = swarm(p.rows);
  const chart = new Chart(c, {
    type: 'scatter',
    data: {
      datasets: [{
        data: pts,
        backgroundColor: cols,
        pointRadius: 1.2,
        pointBorderWidth: 0,
        pointHoverRadius: 1.2,
      }],
    },
    options: {
      responsive: false,
      maintainAspectRatio: false,
      animation: false,
      events: [],
      layout: { padding: { top: PT, right: RW, left: 0, bottom: 0 } },
      plugins: { legend: { display: false }, tooltip: { enabled: false } },
      scales: {
        x: {
          type: 'linear',
          min: p.range[0],
          max: p.range[1],
          afterBuildTicks: (s) => { s.ticks = p.ticks.map(v => ({ value: v })); },
          afterFit: (s) => { s.height = XH; },
          ticks: {
            autoSkip: false,
            maxRotation: 0,
            padding: 0.5,
            color: '#333',
            font: { family: 'DejaVu Sans', size: 4.5 },
            callback: (v) => (v < 0 ? '\u2212' : '') + Math.abs(v).toFixed(p.dec),
          },
          grid: { drawOnChartArea: false, drawTicks: true, tickLength: 2, color: '#333', lineWidth: 0.6 },
          border: { display: true, color: '#333', width: 0.7 },
          title: {
            display: true,
            text: 'SHAP value (impact on model output)',
            color: '#333',
            font: { family: 'DejaVu Sans', size: 5.5 },
            padding: { top: 0, bottom: 0 },
          },
        },
        y: {
          type: 'linear',
          min: -1,
          max: 8,
          reverse: true,
          afterBuildTicks: (s) => { s.ticks = p.features.map((_, i) => ({ value: i })); },
          afterFit: (s) => { s.width = YW; },
          ticks: {
            autoSkip: false,
            padding: 9,
            color: '#333',
            font: { family: 'DejaVu Sans', size: 5.6 },
            callback: (v) => p.features[v],
          },
          grid: { display: false, drawTicks: false },
          border: { display: false },
        },
      },
    },
    plugins: [zeroLine, colorBar],
  });

  // fit the plot area onto the reference box, then place the canvas
  let a = chart.chartArea;
  w += (R - L) - (a.right - a.left);
  h += (B - T) - (a.bottom - a.top);
  chart.resize(w, h);
  a = chart.chartArea;
  c.style.left = (L - a.left) + 'px';
  c.style.top = (T - a.top) + 'px';
}

panel({ title: 'Argentineans', titlePos: [40, 1], box: [67, 222, 22, 131], range: [-0.29, 0.21], ticks: argTicks, dec: 1, features: argFeatures, rows: argRows });
panel({ title: 'Puerto  Ricans', titlePos: [335, 1], box: [362, 517, 20, 129], range: [-0.111, 0.269], ticks: prTicks, dec: 2, features: prFeatures, rows: prRows });
panel({ title: 'Dominicans', titlePos: [40, 163], box: [71, 224, 181, 291], range: [-0.261, 0.232], ticks: domTicks, dec: 1, features: domFeatures, rows: domRows });
panel({ title: 'Senegambians', titlePos: [332, 157], box: [362, 516, 177, 286], range: [-0.131, 0.141], ticks: senTicks, dec: 2, features: senFeatures, rows: senRows });
panel({ title: 'Morroquians', titlePos: [37, 318], box: [71, 224, 341, 451], range: [-0.136, 0.211], ticks: morTicks, dec: 2, features: morFeatures, rows: morRows });
panel({ title: 'Others', titlePos: [332, 316], box: [362, 516, 341, 450], range: [-0.126, 0.519], ticks: othTicks, dec: 1, features: othFeatures, rows: othRows });
</script>
</body>
</html>
